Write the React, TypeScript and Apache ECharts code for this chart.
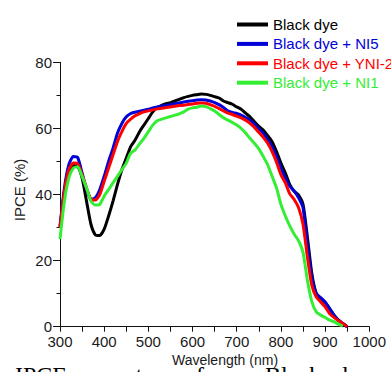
import React, { useEffect, useRef } from "react";
import * as echarts from "echarts";

const wavelengths = [
  300, 310, 320, 330, 340, 350, 360, 370, 380, 390, 400, 410, 420, 430, 440, 450, 460, 470, 480, 490,
  500, 510, 520, 530, 540, 550, 560, 570, 580, 590, 600, 610, 620, 630, 640, 650, 660, 670, 680, 690,
  700, 710, 720, 730, 740, 750, 760, 770, 780, 790, 800, 810, 820, 830, 840, 850, 860, 870, 880, 890,
  900, 910, 920, 930, 940, 950,
];

const blackDye = [
  30, 40, 46, 48.8, 48.5, 45, 38, 31, 27.8, 27.6, 29.5, 33.5, 38, 43, 47.5, 51, 54.5, 56.5, 59, 61,
  63, 65, 66.3, 67, 67.5, 67.8, 68.3, 68.8, 69.3, 69.7, 70, 70.2, 70.4, 70.3, 70, 69.6, 69.2, 68.3, 67.8, 67.3,
  66.5, 65.8, 64.6, 63.5, 62, 60.6, 59.5, 57.8, 56, 53, 49.5, 46.5, 43, 41, 39.8, 37, 27, 16, 10, 8.6,
  7.3, 5.5, 3.5, 2, 1, 0,
];

const blackDyeNI5 = [
  30.5, 42, 49, 51.5, 51.2, 46.5, 41.5, 38.5, 39, 41.5, 45.5, 50, 54, 58.5, 61.5, 63.5, 64.5, 64.9, 65.2, 65.5,
  65.8, 66.2, 66.5, 66.7, 67, 67.2, 67.5, 67.7, 68, 68.2, 68.4, 68.6, 68.7, 68.6, 68.3, 67.8, 67.2, 66.3, 65.3, 64.8,
  64.5, 64, 63.3, 62.5, 61.3, 59.8, 58.5, 56.6, 54.5, 51.5, 48, 45, 42.5, 41, 39, 36, 25, 15, 10, 8.8,
  7.5, 5.5, 3.5, 2, 1, 0,
];

const blackDyeYNI2 = [
  30, 41, 47.5, 49.5, 49.3, 46, 42, 38.6, 38.3, 40, 44, 48, 52, 56, 59, 61.5, 62.8, 63.8, 64.5, 65,
  65.3, 65.6, 65.9, 66.1, 66.3, 66.5, 66.7, 66.9, 67, 67.2, 67.4, 67.6, 67.7, 67.6, 67.2, 66.7, 66, 65.3, 64.6, 64.2,
  63.7, 63.2, 62.5, 61.5, 60.3, 58.8, 57.3, 55.5, 53, 49.8, 46, 43.5, 40.2, 38.5, 36, 31, 21, 12.5, 9, 7.5,
  6, 4, 2.8, 1.8, 1, 0,
];

const blackDyeNI1 = [
  26.5, 38, 45, 48, 48.4, 45.5, 42, 38, 36.8, 37, 39.5, 41.5, 43.5, 45.5, 47.5, 49.5, 52.5, 53.5, 55.3, 57,
  59, 61, 62.3, 62.8, 63.2, 63.6, 64, 64.4, 65, 65.8, 66.2, 66.4, 66.8, 66.6, 66, 65.3, 64.2, 63.2, 62.5, 61.8,
  61, 60, 58.6, 57, 55.5, 53.8, 51.5, 49, 45.5, 42, 37, 33.5, 30.5, 28, 26, 22.5, 14, 7.5, 4.5, 3.5,
  2.8, 2, 1.5, 0.8, 0.2, null,
];

const seriesNames = ["Black dye", "Black dye + NI5", "Black dye + YNI-2", "Black dye + NI1"];
const seriesColors = ["#000000", "#0000d8", "#ff0000", "#33ee33"];
const seriesValues = [blackDye, blackDyeNI5, blackDyeYNI2, blackDyeNI1];

const xTickLabels = [300, 400, 500, 600, 700, 800, 900, 1000];
const yTickLabels = [0, 20, 40, 60, 80];

const captionWords = [
  { text: "IPCE", x: 15 },
  { text: "spectra", x: 93 },
  { text: "of", x: 184 },
  { text: "Black", x: 265 },
  { text: "dye", x: 336 },
];

export default function App() {
  const ref = useRef<HTMLDivElement>(null);

  useEffect(() => {
    if (!ref.current) return;
    const chart = echarts.init(ref.current, undefined, { renderer: "svg" });
    const textColor = "#1a1a1a";

    const series = seriesValues.map((vals, i) => ({
      name: seriesNames[i],
      type: "line",
      data: wavelengths
        .map((w, j) => [w, vals[j]])
        .filter((p) => p[1] !== null && p[1] !== undefined),
      showSymbol: false,
      symbol: "none",
      smooth: 0.2,
      lineStyle: { color: seriesColors[i], width: 3 },
      itemStyle: { color: seriesColors[i] },
      z: 2 + i,
    }));

    chart.setOption({
      animation: false,
      backgroundColor: "#ffffff",
      grid: { left: 60, right: 21.7, top: 62.3, bottom: 45.3, containLabel: false },
      legend: {
        orient: "vertical",
        left: 232,
        top: 12,
        icon: "rect",
        itemWidth: 31,
        itemHeight: 4,
        itemGap: 4.4,
        selectedMode: false,
        textStyle: { fontSize: 15, fontFamily: "Liberation Sans, Arial, sans-serif", lineHeight: 15 },
        data: seriesNames.map((n, i) => ({ name: n, textStyle: { color: seriesColors[i] } })),
      },
      xAxis: {
        type: "value",
        min: 300,
        max: 1000,
        interval: 50,
        axisLine: { show: true, onZero: false, lineStyle: { color: "#111", width: 1 } },
        axisTick: { show: true, inside: false, length: 5, lineStyle: { color: "#111" } },
        splitLine: { show: false },
        axisLabel: {
          margin: 7,
          fontSize: 15,
          color: textColor,
          fontFamily: "Liberation Sans, Arial, sans-serif",
          formatter: (v: number) => (xTickLabels.includes(v) ? String(v) : ""),
        },
      },
      yAxis: {
        type: "value",
        min: 0,
        max: 80,
        interval: 20,
        axisLine: { show: true, lineStyle: { color: "#111", width: 1 } },
        axisTick: { show: true, inside: false, length: 7, lineStyle: { color: "#111" } },
        minorTick: { show: true, splitNumber: 2, length: 3.5, lineStyle: { color: "#111" } },
        splitLine: { show: false },
        axisLabel: {
          margin: 8,
          fontSize: 15,
          color: textColor,
          fontFamily: "Liberation Sans, Arial, sans-serif",
          formatter: (v: number) => (yTickLabels.includes(v) ? String(v) : ""),
        },
      },
      graphic: [
        {
          type: "text",
          x: 19,
          y: 190,
          rotation: Math.PI / 2,
          style: {
            text: "IPCE (%)",
            fontSize: 15,
            fontFamily: "Liberation Sans, Arial, sans-serif",
            fill: textColor,
            align: "center",
            verticalAlign: "middle",
          },
        },
        {
          type: "text",
          x: 225,
          y: 360,
          style: {
            text: "Wavelength (nm)",
            fontSize: 14,
            fontFamily: "Liberation Sans, Arial, sans-serif",
            fill: textColor,
            align: "center",
            verticalAlign: "middle",
          },
        },
        ...captionWords.map((w) => ({
          type: "text",
          x: w.x,
          y: 363,
          style: {
            text: w.text,
            fontSize: 24,
            fontFamily: "Liberation Serif, Times New Roman, serif",
            fill: "#000",
            align: "left",
            verticalAlign: "top",
          },
        })),
      ],
      series,
    });

    return () => chart.dispose();
  }, []);

  return (
    <div
      ref={ref}
      style={{ position: "fixed", left: 0, top: 0, width: 391, height: 372, background: "#fff" }}
    />
  );
}
